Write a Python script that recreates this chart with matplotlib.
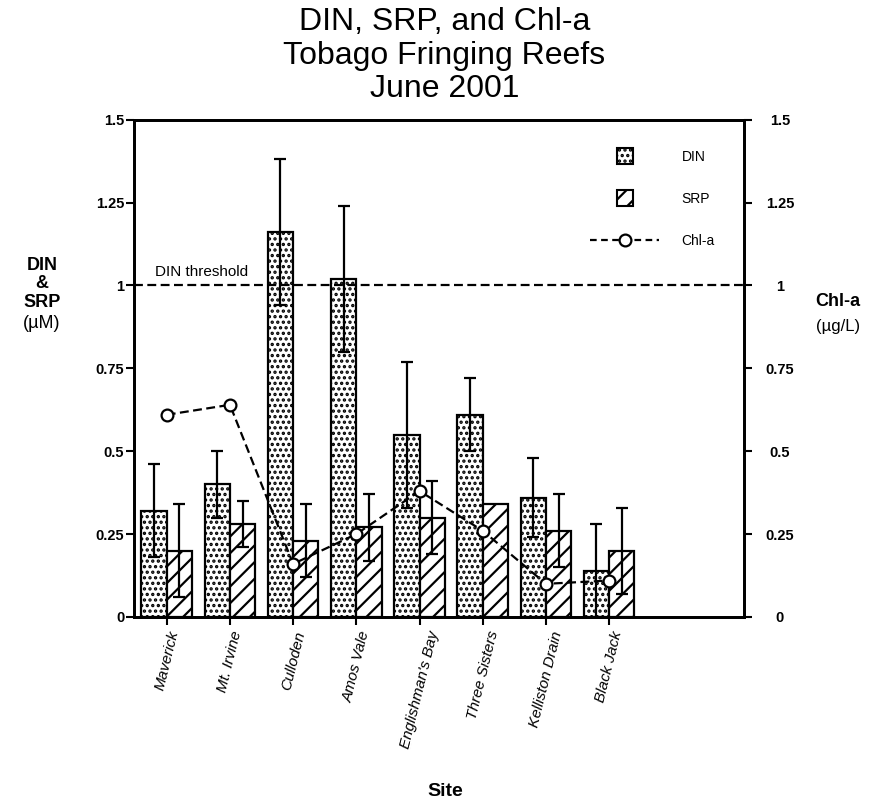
import numpy as np
import matplotlib
matplotlib.use("Agg")
import matplotlib.pyplot as plt
from matplotlib.patches import Patch, Rectangle
from matplotlib.lines import Line2D
from matplotlib.legend_handler import HandlerPatch

plt.rcParams['font.family'] = ['Liberation Sans', 'DejaVu Sans']
plt.rcParams['hatch.linewidth'] = 1.6

# ---- data ---------------------------------------------------------------
sites = ["Maverick", "Mt. Irvine", "Culloden", "Amos Vale",
         "Englishman's Bay", "Three Sisters", "Kelliston Drain", "Black Jack"]
din = [0.32, 0.40, 1.16, 1.02, 0.55, 0.61, 0.36, 0.14]
din_err = [0.14, 0.10, 0.22, 0.22, 0.22, 0.11, 0.12, 0.14]
srp = [0.20, 0.28, 0.23, 0.27, 0.30, 0.34, 0.26, 0.20]
srp_err = [0.14, 0.07, 0.11, 0.10, 0.11, 0.0, 0.11, 0.13]
chla = [0.61, 0.64, 0.16, 0.25, 0.38, 0.26, 0.10, 0.11]
din_threshold = 1.0
yticks = [0, 0.25, 0.5, 0.75, 1.0, 1.25, 1.5]
ytick_labels = ["0", "0.25", "0.5", "0.75", "1", "1.25", "1.5"]


def square_patch(legend, orig_handle, xdescent, ydescent, width, height, fontsize):
    s = 11.5
    return Rectangle((-xdescent + (width - s) / 2, -ydescent + (height - s) / 2), s, s)


fig = plt.figure(figsize=(8.75, 8.06), dpi=100)
ax = fig.add_axes([0.153, 0.2345, 0.697, 0.617])
ax2 = ax.twinx()

x = np.arange(len(sites))
w = 0.4
ax.bar(x - w / 2, din, w, facecolor="white", edgecolor="black", lw=1.6,
       hatch="...", zorder=2)
ax.bar(x + w / 2, srp, w, facecolor="white", edgecolor="black", lw=1.6,
       hatch="//", zorder=2)

de = np.array(din_err)
se = np.array(srp_err)
ax.errorbar(x - w / 2, din, yerr=de, fmt="none", ecolor="black",
            elinewidth=1.6, capsize=4.5, capthick=1.6, zorder=3)
m = se > 0
ax.errorbar((x + w / 2)[m], np.array(srp)[m], yerr=se[m], fmt="none",
            ecolor="black", elinewidth=1.6, capsize=4.5, capthick=1.6, zorder=3)

ax.axhline(din_threshold, color="black", lw=1.6, ls=(0, (4, 2)), zorder=4)
ax.text(0.034, din_threshold + 0.02, "DIN threshold", transform=ax.get_yaxis_transform(),
        fontsize=11, ha="left", va="bottom")

ax2.plot(x, chla, color="black", lw=1.6, ls=(0, (4, 2)), marker="o",
         ms=8.5, mfc="white", mec="black", mew=1.6, zorder=5)

for a in (ax, ax2):
    a.set_ylim(0, 1.5)
    a.set_xlim(-0.52, 9.13)
    for s in a.spines.values():
        s.set_linewidth(2)

ax.set_yticks(yticks)
ax.set_yticklabels(ytick_labels, fontsize=10.5, fontweight="bold")
ax.tick_params(axis="y", direction="out", length=6, width=1.5, pad=1)
ax2.set_yticks(yticks)
ax2.set_yticklabels(ytick_labels, fontsize=10.5, fontweight="bold")
ax2.tick_params(axis="y", direction="out", length=6, width=1.5, pad=20)
for lbl in ax2.get_yticklabels():
    lbl.set_horizontalalignment("center")

ax.set_xticks(x)
ax.set_xticklabels(sites, rotation=76, fontsize=11, fontstyle="italic",
                   ha="center", va="top")
ax.tick_params(axis="x", direction="out", length=6, width=1.5, pad=3)

handles = [Patch(facecolor="white", edgecolor="black", hatch="...", lw=1.5),
           Patch(facecolor="white", edgecolor="black", hatch="//", lw=1.5),
           Line2D([], [], color="black", lw=1.6, ls=(0, (3, 2)), marker="o",
                  ms=8.5, mfc="white", mec="black", mew=1.6)]
ax2.legend(handles, ["DIN", "SRP", "Chl-a"], loc="upper left",
           bbox_to_anchor=(590 / 875, 1 - 150 / 806), bbox_transform=fig.transFigure,
           frameon=False, fontsize=10, borderpad=0, borderaxespad=0,
           handlelength=5.0, handletextpad=1.6, labelspacing=2.0,
           handler_map={Patch: HandlerPatch(patch_func=square_patch)})

fig.text(0.508, 1 - 7 / 806, "DIN, SRP, and Chl-a\nTobago Fringing Reefs\nJune 2001",
         ha="center", va="top", fontsize=23, linespacing=1.16)
fig.text(42 / 875, 1 - 284 / 806, "DIN\n&\nSRP", ha="center", va="center",
         fontsize=13, fontweight="bold", linespacing=1.1)
fig.text(42 / 875, 1 - 324 / 806, "(\u00b5M)", ha="center", va="center", fontsize=13)
fig.text(838 / 875, 1 - 302 / 806, "Chl-a", ha="center", va="center",
         fontsize=13, fontweight="bold")
fig.text(838 / 875, 1 - 327 / 806, "(\u00b5g/L)", ha="center", va="center", fontsize=12)
fig.text(445 / 875, 1 - 792 / 806, "Site", ha="center", va="center",
         fontsize=14, fontweight="bold")

fig.savefig("out.png", dpi=100)
